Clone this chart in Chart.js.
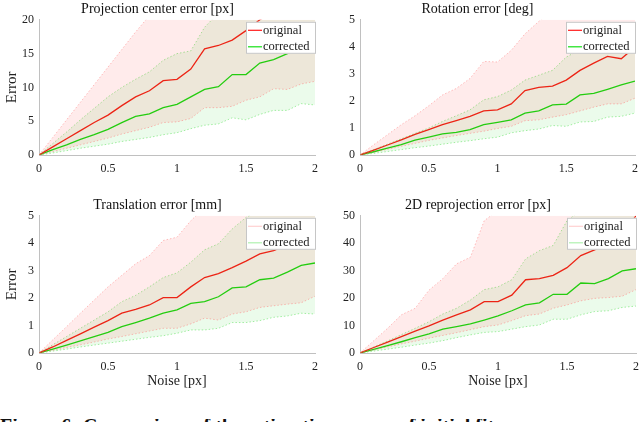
<!DOCTYPE html>
<html>
<head>
<meta charset="utf-8">
<script src="https://cdn.jsdelivr.net/npm/chart.js"></script>
<style>
html, body { margin: 0; padding: 0; background: #fff; overflow: hidden; width: 640px; height: 422px; }
canvas { position: absolute; }
#capwrap { position: absolute; left: 0; top: 419px; width: 640px; height: 3px; overflow: hidden; }
#caption { margin-top: -3px; font: bold 20px "Liberation Serif", serif; line-height: 20px; white-space: nowrap; color: #111; }
</style>
</head>
<body>
<canvas id="c1" width="320" height="185" style="left:0;top:0"></canvas>
<canvas id="c2" width="320" height="185" style="left:320px;top:0"></canvas>
<canvas id="c3" width="320" height="200" style="left:0;top:196px"></canvas>
<canvas id="c4" width="320" height="200" style="left:320px;top:196px"></canvas>
<div id="capwrap"><div id="caption">Figure 6: Comparison of the estimation errors of initial fit</div></div>
<script>
// noise levels (x axis)
const noise = [0, 0.1, 0.2, 0.3, 0.4, 0.5, 0.6, 0.7, 0.8, 0.9, 1.0, 1.1, 1.2, 1.3, 1.4, 1.5, 1.6, 1.7, 1.8, 1.9, 2.0];
const xTicks = [0, 0.5, 1, 1.5, 2];
const legendLabels = ['original', 'corrected'];

// projection center error [px]
const pcOrigMean = [0, 1.2, 2.4, 3.6, 4.8, 5.9, 7.3, 8.6, 9.5, 11.0, 11.2, 12.7, 15.7, 16.2, 17.0, 18.4, 20.0, 21.2, 22.4, 23.3, 24.6];
const pcOrigHigh = [0, 2.6, 5.2, 7.8, 10.4, 13.0, 15.6, 18.2, 20.6, 23.5, 24.0, 26.5, 31, 32, 33.5, 36, 39, 41, 43, 44.5, 47];
const pcOrigLow = [0, 0.5, 1.0, 1.5, 2.0, 2.5, 3.1, 3.6, 4.1, 4.8, 4.9, 5.4, 7.0, 7.0, 7.2, 8.1, 8.6, 9.8, 9.7, 10.5, 10.9];
const pcCorrMean = [0, 0.8, 1.5, 2.3, 3.0, 3.8, 4.8, 5.7, 6.1, 7.0, 7.5, 8.6, 9.7, 10.1, 11.9, 11.9, 13.6, 14.1, 15.0, 15.8, 17.0];
const pcCorrHigh = [0, 1.7, 3.4, 5.2, 6.9, 8.6, 10.0, 11.2, 12.3, 14.0, 15.0, 15.4, 18.9, 21.0, 22.5, 23.5, 25.0, 26.0, 27.0, 28.0, 29.5];
const pcCorrLow = [0, 0.3, 0.65, 1.0, 1.3, 1.6, 2.0, 2.3, 2.6, 3.0, 3.3, 3.9, 4.4, 4.6, 5.5, 5.2, 6.0, 6.6, 6.6, 7.6, 7.4];
const pcTicks = [0, 5, 10, 15, 20];

// rotation error [deg]
const rotOrigMean = [0, 0.18, 0.37, 0.56, 0.76, 0.94, 1.12, 1.27, 1.43, 1.63, 1.67, 1.89, 2.38, 2.5, 2.55, 2.77, 3.13, 3.4, 3.65, 3.56, 3.99];
const rotOrigHigh = [0, 0.38, 0.75, 1.12, 1.45, 1.82, 2.22, 2.46, 2.83, 3.46, 3.44, 3.87, 4.48, 4.94, 5.3, 5.6, 6.0, 6.4, 6.8, 7.0, 7.5];
const rotOrigLow = [0, 0.1, 0.21, 0.32, 0.43, 0.54, 0.63, 0.72, 0.8, 0.88, 0.98, 1.06, 1.27, 1.3, 1.4, 1.49, 1.63, 1.77, 1.89, 1.89, 2.1];
const rotCorrMean = [0, 0.12, 0.25, 0.38, 0.55, 0.66, 0.78, 0.84, 0.94, 1.12, 1.21, 1.3, 1.55, 1.63, 1.85, 1.88, 2.22, 2.28, 2.43, 2.59, 2.73];
const rotCorrHigh = [0, 0.2, 0.4, 0.6, 0.8, 1.0, 1.24, 1.45, 1.67, 2.04, 2.16, 2.4, 2.77, 2.95, 3.13, 3.62, 3.9, 4.1, 4.3, 4.5, 4.8];
const rotCorrLow = [0, 0.06, 0.13, 0.2, 0.27, 0.33, 0.4, 0.47, 0.53, 0.6, 0.66, 0.82, 0.9, 0.96, 1.09, 1.06, 1.22, 1.24, 1.4, 1.43, 1.55];
const rotTicks = [0, 1, 2, 3, 4, 5];

// translation error [mm]
const trOrigMean = [0, 0.22, 0.46, 0.7, 0.94, 1.18, 1.45, 1.59, 1.75, 2.02, 2.02, 2.41, 2.75, 2.89, 3.11, 3.35, 3.61, 3.73, 3.95, 4.25, 4.58];
const trOrigHigh = [0, 0.48, 0.96, 1.45, 1.93, 2.41, 2.83, 3.25, 3.55, 4.1, 4.22, 4.82, 5.3, 5.7, 6.0, 6.4, 6.8, 7.1, 7.5, 7.8, 8.2];
const trOrigLow = [0, 0.1, 0.2, 0.3, 0.4, 0.51, 0.6, 0.7, 0.8, 0.9, 0.9, 1.06, 1.27, 1.2, 1.42, 1.5, 1.66, 1.72, 1.78, 1.83, 2.07];
const trCorrMean = [0, 0.14, 0.29, 0.44, 0.6, 0.75, 0.96, 1.11, 1.27, 1.45, 1.57, 1.81, 1.87, 2.05, 2.37, 2.41, 2.67, 2.73, 2.95, 3.19, 3.28];
const trCorrHigh = [0, 0.3, 0.6, 0.9, 1.2, 1.5, 1.87, 2.1, 2.41, 2.75, 2.92, 3.31, 3.76, 3.98, 4.52, 4.94, 5.2, 5.4, 5.7, 5.9, 6.2];
const trCorrLow = [0, 0.07, 0.14, 0.22, 0.29, 0.36, 0.43, 0.5, 0.57, 0.63, 0.72, 0.84, 0.84, 0.9, 1.11, 1.11, 1.18, 1.3, 1.35, 1.45, 1.42];
const trTicks = [0, 1, 2, 3, 4, 5];

// 2D reprojection error [px]
const rpOrigMean = [0, 2, 4, 6, 8, 9.9, 12, 13.9, 15.7, 18.7, 18.7, 21.1, 26.7, 27.1, 28.3, 31.1, 35.5, 37.6, 39.8, 43.4, 50];
const rpOrigHigh = [0, 4.5, 9, 13.9, 16.3, 22.9, 27.1, 32.5, 34.9, 48.2, 52, 57, 62, 66, 70, 74, 78, 82, 86, 90, 95];
const rpOrigLow = [0, 1.1, 2.2, 3.3, 4.3, 5.4, 6.4, 7.4, 8.5, 9.6, 10.2, 11.8, 13.6, 14.2, 16.3, 17.5, 19, 19.9, 20.2, 20.7, 23.1];
const rpCorrMean = [0, 1.3, 2.7, 4.1, 5.6, 7, 8.7, 9.6, 10.6, 12, 13.5, 15.4, 17.5, 18.3, 21.4, 21.4, 25.5, 25.3, 27.1, 29.9, 30.7];
const rpCorrHigh = [0, 2.2, 4.4, 6.7, 9, 11.4, 14.2, 16.3, 19.3, 23.1, 24.1, 26.7, 34.3, 37.3, 39.2, 48.2, 52, 55, 58, 61, 64];
const rpCorrLow = [0, 0.7, 1.4, 2.1, 2.9, 3.6, 4.5, 5.6, 6.6, 7.5, 7.8, 8.7, 9.6, 10.2, 12.3, 12.3, 13.9, 15.1, 15.4, 16.6, 17.1];
const rpTicks = [0, 10, 20, 30, 40, 50];

const serif = '"Liberation Serif", "DejaVu Serif", serif';
const RED = '#ff1a1a';
const GREEN = '#14e014';

// legend drawn inside the plot area, top right, like the matlab one
const legendBox = {
  id: 'legendBox',
  afterDraw(chart, args, opts) {
    const { ctx, chartArea: a } = chart;
    const w = 70, h = 32;
    const x = a.right - w + 1, y = a.top + 2;
    ctx.save();
    ctx.fillStyle = '#fff';
    ctx.fillRect(x, y, w, h);
    ctx.strokeStyle = '#c6c6c6';
    ctx.lineWidth = 1;
    ctx.strokeRect(x + 0.5, y + 0.5, w - 1, h - 1);
    ctx.font = '12.5px ' + serif;
    ctx.textBaseline = 'middle';
    legendLabels.forEach((t, i) => {
      const ly = y + 8.5 + i * 16.5;
      ctx.strokeStyle = opts.colors[i];
      ctx.lineWidth = 1.2;
      ctx.beginPath();
      ctx.moveTo(x + 2, ly);
      ctx.lineTo(x + 16, ly);
      ctx.stroke();
      ctx.fillStyle = '#222';
      ctx.fillText(t, x + 17, ly);
    });
    ctx.restore();
  }
};

function pts(arr) {
  return noise.map((x, i) => ({ x: x, y: arr[i] }));
}

function bandLine(arr, color, fillColor) {
  return {
    data: pts(arr),
    borderColor: color,
    borderWidth: 1,
    borderDash: [1.5, 2],
    pointRadius: 0,
    fill: fillColor ? '+1' : false,
    backgroundColor: fillColor || 'transparent'
  };
}

function meanLine(arr, color) {
  return { data: pts(arr), borderColor: color, borderWidth: 1.3, pointRadius: 0, fill: false };
}

function panel(id, p) {
  new Chart(document.getElementById(id), {
    type: 'line',
    data: {
      datasets: [
        bandLine(p.origHigh, 'rgba(255,110,110,0.45)', 'rgba(255,0,0,0.08)'),
        bandLine(p.origLow, 'rgba(255,110,110,0.45)'),
        bandLine(p.corrHigh, 'rgba(60,220,60,0.45)', 'rgba(0,210,0,0.08)'),
        bandLine(p.corrLow, 'rgba(60,220,60,0.45)'),
        meanLine(p.origMean, RED),
        meanLine(p.corrMean, GREEN)
      ]
    },
    options: {
      responsive: false,
      animation: false,
      events: [],
      layout: { padding: { left: 0, top: 0, bottom: 0, right: p.rightPad } },
      plugins: {
        legend: { display: false },
        tooltip: { enabled: false },
        title: {
          display: true,
          text: p.title,
          color: '#111',
          font: { family: serif, size: 14, weight: 'normal' },
          padding: { top: 1, bottom: 2 }
        },
        legendBox: { colors: p.legendColors }
      },
      scales: {
        x: {
          type: 'linear',
          min: 0,
          max: 2,
          afterBuildTicks: s => { s.ticks = xTicks.map(v => ({ value: v })); },
          afterFit: s => { s.height = p.xHeight; },
          ticks: { color: '#222', font: { family: serif, size: 12 }, padding: 1, maxRotation: 0, callback: v => String(v) },
          // ticks are not drawn (grid hidden) but their length keeps the labels off the axis
          grid: { display: false, drawTicks: true, tickLength: 6 },
          border: { color: '#c0c0c0', width: 1 },
          title: {
            display: p.xTitle,
            text: 'Noise [px]',
            color: '#222',
            font: { family: serif, size: 14 },
            padding: { top: 1, bottom: 6 }
          }
        },
        y: {
          min: 0,
          max: p.yTicks[p.yTicks.length - 1],
          afterBuildTicks: s => { s.ticks = p.yTicks.map(v => ({ value: v })); },
          afterFit: s => { s.width = p.yWidth; },
          ticks: { color: '#222', font: { family: serif, size: 12 }, padding: 5, callback: v => String(v) },
          grid: { display: false, drawTicks: false },
          border: { color: '#c0c0c0', width: 1 },
          title: {
            display: p.yTitle,
            text: 'Error',
            color: '#222',
            font: { family: serif, size: 15 },
            padding: { top: 3, bottom: 0 }
          }
        }
      }
    },
    plugins: [legendBox]
  });
}

const strongLegend = [RED, GREEN];
const faintLegend = ['rgba(255,120,120,0.35)', 'rgba(110,230,110,0.55)'];

panel('c1', {
  title: 'Projection center error [px]',
  origMean: pcOrigMean, origHigh: pcOrigHigh, origLow: pcOrigLow,
  corrMean: pcCorrMean, corrHigh: pcCorrHigh, corrLow: pcCorrLow,
  yTicks: pcTicks, yTitle: true, xTitle: false,
  yWidth: 39, xHeight: 30, rightPad: 5, legendColors: strongLegend
});
panel('c2', {
  title: 'Rotation error [deg]',
  origMean: rotOrigMean, origHigh: rotOrigHigh, origLow: rotOrigLow,
  corrMean: rotCorrMean, corrHigh: rotCorrHigh, corrLow: rotCorrLow,
  yTicks: rotTicks, yTitle: false, xTitle: false,
  yWidth: 40, xHeight: 30, rightPad: 5, legendColors: strongLegend
});
panel('c3', {
  title: 'Translation error [mm]',
  origMean: trOrigMean, origHigh: trOrigHigh, origLow: trOrigLow,
  corrMean: trCorrMean, corrHigh: trCorrHigh, corrLow: trCorrLow,
  yTicks: trTicks, yTitle: true, xTitle: true,
  yWidth: 39, xHeight: 43, rightPad: 5, legendColors: faintLegend
});
panel('c4', {
  title: '2D reprojection error [px]',
  origMean: rpOrigMean, origHigh: rpOrigHigh, origLow: rpOrigLow,
  corrMean: rpCorrMean, corrHigh: rpCorrHigh, corrLow: rpCorrLow,
  yTicks: rpTicks, yTitle: false, xTitle: true,
  yWidth: 40, xHeight: 43, rightPad: 4, legendColors: faintLegend
});
</script>
</body>
</html>
